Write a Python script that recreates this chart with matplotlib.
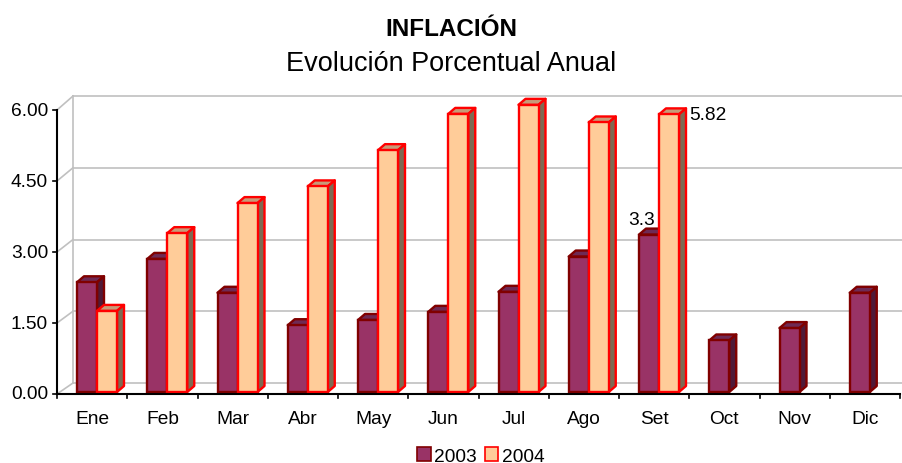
import matplotlib
matplotlib.use("Agg")
import matplotlib.pyplot as plt
from matplotlib.patches import Polygon, Patch
import numpy as np

plt.rcParams['font.family'] = ['Liberation Sans', 'DejaVu Sans']

months = ["Ene", "Feb", "Mar", "Abr", "May", "Jun", "Jul", "Ago", "Set", "Oct", "Nov", "Dic"]
v2003 = [2.30, 2.79, 2.08, 1.40, 1.51, 1.68, 2.10, 2.84, 3.30, 1.08, 1.34, 2.08]
v2004 = [1.70, 3.33, 3.96, 4.31, 5.07, 5.83, 6.02, 5.65, 5.82]
yticks = [0.0, 1.5, 3.0, 4.5, 6.0]
ytick_labels = ["0.00", "1.50", "3.00", "4.50", "6.00"]

W, H = 903, 464
fig = plt.figure(figsize=(W / 100, H / 100), dpi=100)
px_per_cat = 70.25
px_per_unit = 47.33
ax_left_px, ax_right_px = 57, 903
ax_bottom_px, ax_top_px = 395, 85
ax = fig.add_axes([ax_left_px / W, (H - ax_bottom_px) / H,
                   (ax_right_px - ax_left_px) / W, (ax_bottom_px - ax_top_px) / H])
ax.set_xlim(-0.5, -0.5 + (ax_right_px - ax_left_px) / px_per_cat)
ax.set_ylim(0, (ax_bottom_px - ax_top_px) / px_per_unit)
for s in ax.spines.values():
    s.set_visible(False)
ax.set_xticks([])
ax.set_yticks([])

FS = 13.8

# depth geometry (back wall)
back_dx = 16 / px_per_cat
back_dy0 = 11 / px_per_unit
back_dy6 = 14 / px_per_unit
def back_y(v):
    return v + back_dy0 + (back_dy6 - back_dy0) * v / 6.0

grid_c = "#c0c0c0"
x_front = -0.5
x_end = len(months) - 0.5
for v in yticks:
    yb = back_y(v)
    ax.plot([x_front, x_front + back_dx], [v, yb], color=grid_c, lw=1.2, zorder=1, clip_on=False)
    ax.plot([x_front + back_dx, x_end + back_dx], [yb, yb], color=grid_c, lw=1.2, zorder=1, clip_on=True)
ax.plot([x_front + back_dx, x_front + back_dx], [back_y(0), back_y(6)], color=grid_c, lw=1.2, zorder=1)

# front axes
ax.plot([x_front, x_front], [0, 6], color="black", lw=1.5, zorder=5, clip_on=False)
ax.plot([x_front, x_end], [0, 0], color="black", lw=1.5, zorder=5, clip_on=False)
for v, lab in zip(yticks, ytick_labels):
    ax.plot([x_front - 4 / px_per_cat, x_front], [v, v], color="black", lw=1.2, zorder=5, clip_on=False)
    ax.text(x_front - 9 / px_per_cat, v, lab, ha="right", va="center", fontsize=FS)
for i in range(len(months) + 1):
    ax.plot([i - 0.5, i - 0.5], [0, -4 / px_per_unit], color="black", lw=1.2, zorder=5, clip_on=False)
for i, m in enumerate(months):
    ax.text(i, -24.5 / px_per_unit, m, ha="center", va="center", fontsize=FS)

# bars (front faces sit slightly behind the front plane)
bw = 20 / px_per_cat
ddx = 7 / px_per_cat
ddy = 6 / px_per_unit
base = 2 / px_per_unit
k = 47.7 / px_per_unit
def bar_y(v):
    return base + v * k

def draw_bars(lefts, vals, face, edge, top_c, side_c, z):
    tops = [bar_y(v) for v in vals]
    ax.bar(lefts, [t - base for t in tops], width=bw, bottom=base, align="edge",
           color=face, edgecolor=edge, linewidth=1.7, zorder=z + 0.2)
    for x0, t in zip(lefts, tops):
        top = Polygon([(x0, t), (x0 + bw, t), (x0 + bw + ddx, t + ddy), (x0 + ddx, t + ddy)],
                      closed=True, facecolor=top_c, edgecolor=edge, lw=1.7, zorder=z, joinstyle="round")
        side = Polygon([(x0 + bw, base), (x0 + bw + ddx, base + ddy), (x0 + bw + ddx, t + ddy), (x0 + bw, t)],
                       closed=True, facecolor=side_c, edgecolor=edge, lw=1.7, zorder=z, joinstyle="round")
        ax.add_patch(top)
        ax.add_patch(side)

x2003 = [i - 0.5 + 20 / px_per_cat for i in range(len(v2003))]
x2004 = [i - 0.5 + 40 / px_per_cat for i in range(len(v2004))]
draw_bars(x2003, v2003, "#993366", "#800000", "#6e2a55", "#4f1a38", 2)
draw_bars(x2004, v2004, "#FFCC99", "#FF0000", "#c89a78", "#7d6a52", 3)

# labels
ax.annotate("3.3", xy=(x2003[8] + bw / 2, bar_y(v2003[8])), xytext=(-5, 11), textcoords="offset points",
            ha="center", va="center", fontsize=FS, zorder=10)
ax.annotate("5.82", xy=(x2004[8] + bw + ddx, bar_y(v2004[8])), xytext=(2, 0), textcoords="offset points",
            ha="left", va="center", fontsize=FS, zorder=10)

# titles
fig.text(0.5, 1 - 36 / H, "INFLACIÓN", ha="center", va="baseline", fontsize=17.5, fontweight="bold")
fig.text(0.5, 1 - 71 / H, "Evolución Porcentual Anual", ha="center", va="baseline", fontsize=19.5)

handles = [Patch(facecolor="#993366", edgecolor="#800000", lw=1.2),
           Patch(facecolor="#FFCC99", edgecolor="#FF0000", lw=1.2)]
fig.legend(handles, ["2003", "2004"], loc="center", bbox_to_anchor=(481 / W, 1 - 457 / H),
           ncol=2, frameon=False, fontsize=FS, handlelength=0.7, handleheight=0.7,
           handletextpad=0.2, columnspacing=0.4, borderpad=0)

fig.savefig("out.png", dpi=100)
